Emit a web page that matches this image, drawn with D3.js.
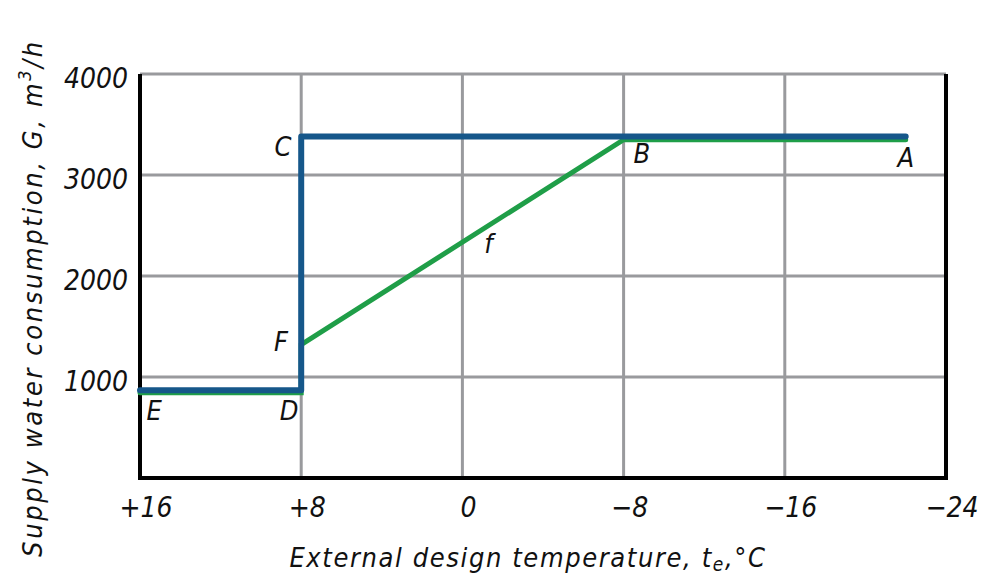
<!DOCTYPE html>
<html>
<head>
<meta charset="utf-8">
<script src="https://cdn.jsdelivr.net/npm/d3@7"></script>
<style>
    body { margin: 0; background: #fff; }
    text { font-family: "DejaVu Sans Condensed", "DejaVu Sans", sans-serif; font-style: italic; fill: #111; }
</style>
</head>
<body>
<svg id="chart"></svg>
<script>
// temperatures (deg C) and consumption (m3/h)
var xTicks = [16, 8, 0, -8, -16, -24];
var xTickLabels = ["+16", "+8", "0", "\u22128", "\u221216", "\u221224"];
var yTicks = [1000, 2000, 3000, 4000];

// blue curve E-D-C-A
var blueT = [16, 8, 8, -22];
var blueG = [870, 870, 3380, 3380];

// green curve E-D-F-B-A
var greenT = [16, 8, 8, -8, -22];
var greenG = [845, 845, 1320, 3350, 3350];

// point labels
var pointNames = ["C", "B", "A", "f", "F", "E", "D"];
var pointT = [8.9, -8.9, -22, -1.3, 9.0, 15.3, 8.6];
var pointG = [3190, 3120, 3080, 2230, 1260, 570, 570];

var width = 987,
    height = 577;

var svg = d3.select('#chart')
    .attr('width', width)
    .attr('height', height);

var x = d3.scaleLinear()
    .domain([16, -24])
    .range([140, 946]);

var y = d3.scaleLinear()
    .domain([0, 4000])
    .range([478, 74]);

var grid = svg.append('g');

// vertical grid
grid.selectAll('line.vg')
    .data(xTicks.slice(1, -1))
    .enter().append('line')
    .attr('x1', function (d) { return x(d); })
    .attr('x2', function (d) { return x(d); })
    .attr('y1', y(4000))
    .attr('y2', y(0))
    .attr('stroke', '#999a9d')
    .attr('stroke-width', 3);

// horizontal grid
grid.selectAll('line.hg')
    .data(yTicks)
    .enter().append('line')
    .attr('x1', x(16))
    .attr('x2', x(-24))
    .attr('y1', function (d) { return y(d); })
    .attr('y2', function (d) { return y(d); })
    .attr('stroke', '#999a9d')
    .attr('stroke-width', 3);

// frame: left, bottom, right in black
svg.append('path')
    .attr('d', 'M' + x(16) + ',' + y(4000) + 'V' + y(0) + 'H' + x(-24) + 'V' + y(4000))
    .attr('fill', 'none')
    .attr('stroke', '#000')
    .attr('stroke-width', 4);

var line = d3.line()
    .x(function (d) { return x(d[0]); })
    .y(function (d) { return y(d[1]); });

svg.append('path')
    .datum(d3.zip(greenT, greenG))
    .attr('d', line)
    .attr('fill', 'none')
    .attr('stroke', '#1f9e48')
    .attr('stroke-width', 5)
    .attr('stroke-linecap', 'round');

svg.append('path')
    .datum(d3.zip(blueT, blueG))
    .attr('d', line)
    .attr('fill', 'none')
    .attr('stroke', '#16578a')
    .attr('stroke-width', 6)
    .attr('stroke-linecap', 'round')
    .attr('stroke-linejoin', 'round');

// point labels
svg.selectAll('text.pt')
    .data(pointNames)
    .enter().append('text')
    .attr('x', function (d, i) { return x(pointT[i]); })
    .attr('y', function (d, i) { return y(pointG[i]); })
    .attr('text-anchor', 'middle')
    .attr('font-size', 27)
    .text(function (d) { return d; });

// y tick labels
svg.selectAll('text.yt')
    .data(yTicks)
    .enter().append('text')
    .attr('x', 128)
    .attr('y', function (d) { return y(d) + 14; })
    .attr('text-anchor', 'end')
    .attr('font-size', 28)
    .text(function (d) { return d; });

// x tick labels
svg.selectAll('text.xt')
    .data(xTicks)
    .enter().append('text')
    .attr('x', function (d) { return x(d) + 6; })
    .attr('y', 517)
    .attr('text-anchor', 'middle')
    .attr('font-size', 28)
    .text(function (d, i) { return xTickLabels[i]; });

// axis titles
var xt = svg.append('text')
    .attr('x', 528)
    .attr('y', 567)
    .attr('text-anchor', 'middle')
    .attr('font-size', 27)
    .attr('letter-spacing', 1.6);
xt.append('tspan').text('External design temperature, t');
xt.append('tspan').attr('font-size', 19).attr('dy', 4).text('e');
xt.append('tspan').attr('dy', -4).text(',\u00b0C');

var yt = svg.append('text')
    .attr('transform', 'translate(42,' + 298 + ') rotate(-90)')
    .attr('text-anchor', 'middle')
    .attr('font-size', 27)
    .attr('letter-spacing', 2.6);
yt.append('tspan').text('Supply water consumption, G, m');
yt.append('tspan').attr('font-size', 18).attr('dy', -11).text('3');
yt.append('tspan').attr('dy', 11).text('/h');
</script>
</body>
</html>
